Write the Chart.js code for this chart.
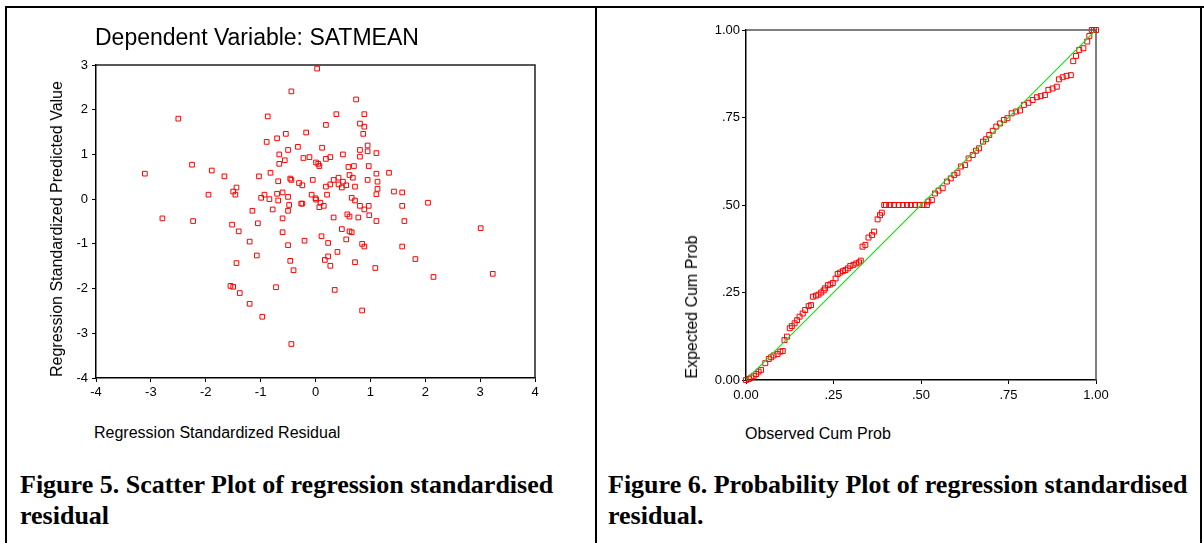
<!DOCTYPE html>
<html lang="en">
<head>
    <meta charset="UTF-8">
    <title>Residual plots</title>
    <script src="https://cdn.jsdelivr.net/npm/chart.js"></script>
    <style>
        body {
            margin: 0;
            width: 1204px;
            height: 543px;
            position: relative;
            background: #fff;
            overflow: hidden;
            font-family: "Liberation Sans", Arial, sans-serif;
        }

        .rule {
            position: absolute;
            background: #000;
        }

        .txt {
            position: absolute;
            white-space: nowrap;
            color: #000;
        }

        .vert {
            transform: translate(-50%, -50%) rotate(-90deg);
        }

        .caption {
            position: absolute;
            font-family: "Liberation Serif", "Times New Roman", serif;
            font-weight: bold;
            font-size: 26px;
            line-height: 31px;
            color: #000;
        }

        canvas {
            position: absolute;
            top: 0;
        }
    </style>
</head>
<body>
<div class="rule" style="left:5px;top:6px;width:1199px;height:2px"></div>
<div class="rule" style="left:5px;top:6px;width:2px;height:537px"></div>
<div class="rule" style="left:595px;top:6px;width:2px;height:537px"></div>
<div class="rule" style="left:1200px;top:6px;width:2px;height:537px"></div>

<canvas id="scatterCanvas" width="597" height="420" style="left:0"></canvas>
<canvas id="ppCanvas" width="607" height="420" style="left:597px"></canvas>

<div class="txt" style="left:95px;top:24px;font-size:23px;line-height:26px">Dependent Variable: SATMEAN</div>
<div class="txt vert" style="left:57px;top:229px;font-size:16px">Regression Standardized Predicted Value</div>
<div class="txt" style="left:94px;top:424px;font-size:16px">Regression Standardized Residual</div>
<div class="caption" style="left:20px;top:469px">Figure 5. Scatter Plot of regression standardised<br>residual</div>

<div class="txt vert" style="left:692px;top:307px;font-size:16px">Expected Cum Prob</div>
<div class="txt" style="left:745px;top:425px;font-size:16px">Observed Cum Prob</div>
<div class="caption" style="left:608px;top:469px">Figure 6. Probability Plot of regression standardised<br>residual.</div>

<script>
    // scatter: standardized residual (x) vs standardized predicted value (y)
    const residual = [0.03, -0.44, -2.50, -0.87, 0.38, 0.74, 0.89, 0.19, 0.81, 0.89,
        -0.54, -0.17, 0.87, -0.89, -0.70, 0.12, -0.32, -0.50, 0.81, 0.95,
        0.95, 1.11, -0.66, 0.50, 0.81, -0.56, -0.66, -0.22, -0.11, 0.01,
        0.05, 0.07, 0.19, 0.27, 0.60, 0.70, 0.97, -2.25, -3.11, -1.89,
        -1.66, -1.03, -0.82, 1.11, 1.34, 0.62, 0.68, -0.68, -0.46, -0.44,
        -0.30, -0.24, -0.05, 0.33, 0.42, 0.50, 0.42, 0.56, 0.27, 0.19,
        0.48, 0.72, 0.95, 1.13, 1.13, 1.11, 1.43, 1.58, 0.21, -0.07,
        0.00, 0.01, 0.09, 0.07, 0.15, -1.95, -1.50, -1.46, -1.44, -1.15,
        -0.99, -0.93, -0.84, -0.78, -0.70, -0.68, -0.60, -0.50, -0.48, -0.50,
        -0.60, -0.26, -0.24, 0.33, -2.79, -2.23, 0.66, 0.72, 0.81, 0.89,
        0.97, 1.58, 2.05, 0.58, 0.62, 0.78, 0.98, 1.11, 1.62, 3.01,
        0.48, 0.62, 0.66, -0.20, 0.11, 0.23, 0.56, 0.85, 0.89, 1.58,
        0.40, 0.23, 0.17, 0.27, 0.72, 1.09, 1.82, 2.15, 3.23, 0.35,
        0.85, -1.52, -1.40, -1.05, -0.60, -1.20, -0.50, -1.07, -1.44, -0.46,
        -0.40, -1.55, -1.50, -1.38, -0.72, -1.20, -0.97, -0.44];
    const predicted = [2.92, 2.41, 1.80, 1.85, 1.90, 2.23, 1.90, 1.66, 1.69, 1.62,
        1.46, 1.49, 1.46, 1.28, 1.36, 1.15, 1.17, 1.10, 1.10, 1.20,
        1.07, 1.03, 1.00, 1.00, 0.95, 0.87, 0.79, 0.92, 0.94, 0.82,
        0.79, 0.74, 0.90, 0.94, 0.72, 0.74, 0.74, 0.77, 0.57, 0.64,
        0.51, 0.51, 0.59, 0.57, 0.59, 0.54, 0.48, 0.40, 0.46, 0.43,
        0.36, 0.31, 0.43, 0.43, 0.48, 0.39, 0.33, 0.31, 0.33, 0.28,
        0.26, 0.28, 0.43, 0.39, 0.23, 0.11, 0.17, 0.15, 0.10, 0.10,
        0.02, -0.01, -0.08, -0.18, -0.15, 0.10, 0.17, 0.10, 0.26, -0.26,
        0.03, 0.10, 0.00, -0.23, 0.12, -0.03, 0.15, 0.05, -0.13, -0.26,
        -0.43, -0.10, -0.10, -0.41, -0.43, -0.49, 0.03, -0.03, -0.15, -0.23,
        -0.15, -0.15, -0.08, -0.34, -0.39, -0.41, -0.36, -0.49, -0.49, -0.65,
        -0.67, -0.72, -0.74, -0.93, -0.83, -0.98, -0.90, -1.00, -1.06, -1.06,
        -1.18, -1.28, -1.36, -1.49, -1.41, -1.54, -1.34, -1.74, -1.67, -2.03,
        -2.49, -0.57, -0.72, -0.54, -0.74, -0.95, -1.03, -1.26, -1.43, -1.38,
        -1.59, -1.94, -1.96, -2.10, -1.97, -2.34, -2.63, -3.24];

    // P-P plot: observed cum prob (x) vs expected cum prob (y)
    const observedCum = [0, 0.008, 0.015, 0.022, 0.029, 0.036, 0.043, 0.055, 0.065, 0.072,
        0.079, 0.090, 0.098, 0.105, 0.110, 0.117, 0.125, 0.131, 0.139, 0.146,
        0.153, 0.162, 0.169, 0.179, 0.186, 0.191, 0.200, 0.207, 0.215, 0.222,
        0.226, 0.234, 0.241, 0.248, 0.256, 0.262, 0.269, 0.277, 0.284, 0.291,
        0.298, 0.307, 0.315, 0.323, 0.328, 0.333, 0.341, 0.350, 0.360, 0.366,
        0.376, 0.383, 0.388, 0.395,
        0.400, 0.412, 0.423, 0.436, 0.448, 0.460, 0.471, 0.483, 0.496, 0.507, 0.517,
        0.521, 0.531, 0.540, 0.550, 0.562, 0.574, 0.585, 0.595, 0.604, 0.614,
        0.626, 0.636, 0.648, 0.657, 0.666, 0.677, 0.686, 0.695, 0.705, 0.715,
        0.726, 0.737, 0.747, 0.759, 0.772, 0.783, 0.794, 0.807, 0.819, 0.831,
        0.842, 0.854, 0.864, 0.876, 0.888, 0.894, 0.905, 0.916, 0.928, 0.935,
        0.943, 0.952, 0.964, 0.975, 0.981, 0.988, 0.994, 1.000];
    const expectedCum = [0, 0.003, 0.007, 0.012, 0.017, 0.024, 0.029, 0.048, 0.060, 0.065,
        0.070, 0.074, 0.081, 0.083, 0.114, 0.124, 0.148, 0.154, 0.162, 0.171,
        0.181, 0.190, 0.200, 0.211, 0.214, 0.238, 0.241, 0.244, 0.250, 0.256,
        0.262, 0.271, 0.273, 0.277, 0.290, 0.303, 0.307, 0.311, 0.314, 0.319,
        0.326, 0.329, 0.333, 0.336, 0.341, 0.381, 0.386, 0.407, 0.414, 0.424,
        0.459, 0.471, 0.478, 0.500,
        0.500, 0.500, 0.500, 0.500, 0.500, 0.500, 0.500, 0.500, 0.500, 0.500, 0.500,
        0.510, 0.514, 0.533, 0.541, 0.548, 0.567, 0.576, 0.586, 0.592, 0.610,
        0.614, 0.633, 0.643, 0.655, 0.662, 0.681, 0.688, 0.700, 0.712, 0.724,
        0.733, 0.743, 0.748, 0.762, 0.767, 0.770, 0.786, 0.792, 0.800, 0.808,
        0.811, 0.814, 0.829, 0.833, 0.838, 0.859, 0.865, 0.869, 0.871, 0.911,
        0.926, 0.943, 0.948, 0.967, 0.983, 1.000, 1.000, 1.000];

    // reference diagonal of the P-P plot
    const diagonal = [0, 1];

    const ppTicks = {0: '0.00', 0.25: '.25', 0.5: '.50', 0.75: '.75', 1: '1.00'};

    const tickFont = {family: '"Liberation Sans", Arial, sans-serif', size: 13};

    // draws the top and right sides of the plot box
    function framePlugin(color) {
        return {
            id: 'frame',
            afterDatasetsDraw(chart) {
                const a = chart.chartArea;
                const ctx = chart.ctx;
                ctx.save();
                ctx.strokeStyle = color;
                ctx.lineWidth = 1.5;
                ctx.beginPath();
                ctx.moveTo(a.left, a.top);
                ctx.lineTo(a.right, a.top);
                ctx.lineTo(a.right, a.bottom);
                ctx.stroke();
                ctx.restore();
            }
        };
    }

    function axis(min, max, step, fixed, labelFn, pad) {
        return {
            type: 'linear',
            min: min,
            max: max,
            ticks: {
                stepSize: step,
                color: '#000',
                font: tickFont,
                padding: pad,
                callback: labelFn
            },
            grid: {drawOnChartArea: false, drawTicks: true, tickLength: 4, color: '#000', lineWidth: 1},
            border: {display: true, color: '#000', width: 1.5},
            afterFit(scale) {
                if (scale.isHorizontal()) scale.height = fixed;
                else scale.width = fixed;
            }
        };
    }

    function baseOptions(padding) {
        return {
            responsive: false,
            animation: false,
            devicePixelRatio: 1,
            events: [],
            layout: {padding: padding},
            plugins: {legend: {display: false}, tooltip: {enabled: false}}
        };
    }

    function initializeCharts() {
        const scatterOpts = baseOptions({left: 72, right: 62, top: 65, bottom: 18});
        scatterOpts.scales = {
            x: axis(-4, 4, 1, 24, v => String(v), 3),
            y: axis(-4, 3, 1, 24, v => String(v), 4)
        };
        new Chart(document.getElementById('scatterCanvas'), {
            type: 'scatter',
            data: {
                datasets: [{
                    data: residual.map((r, i) => ({x: r, y: predicted[i]})),
                    pointStyle: 'rect',
                    pointRadius: 3.3,
                    borderWidth: 1,
                    borderColor: '#ff0000',
                    backgroundColor: 'rgba(0,0,0,0)',
                    clip: false
                }]
            },
            options: scatterOpts,
            plugins: [framePlugin('#222')]
        });

        const ppOpts = baseOptions({left: 115, right: 108, top: 30, bottom: 16});
        ppOpts.scales = {
            x: axis(0, 1, 0.25, 24, v => ppTicks[v], 4),
            y: axis(0, 1, 0.25, 34, v => ppTicks[v], 2)
        };
        new Chart(document.getElementById('ppCanvas'), {
            type: 'scatter',
            data: {
                datasets: [{
                    data: diagonal.map(v => ({x: v, y: v})),
                    showLine: true,
                    borderColor: '#1ed81e',
                    backgroundColor: '#1ed81e',
                    borderWidth: 1.2,
                    pointRadius: 0,
                    order: 0
                }, {
                    data: observedCum.map((o, i) => ({x: o, y: expectedCum[i]})),
                    pointStyle: 'rect',
                    pointRadius: 3.5,
                    borderWidth: 1,
                    borderColor: '#ff0000',
                    backgroundColor: 'rgba(0,0,0,0)',
                    clip: false,
                    order: 1
                }]
            },
            options: ppOpts,
            plugins: [framePlugin('#555')]
        });
    }

    window.onload = initializeCharts;
</script>
</body>
</html>
